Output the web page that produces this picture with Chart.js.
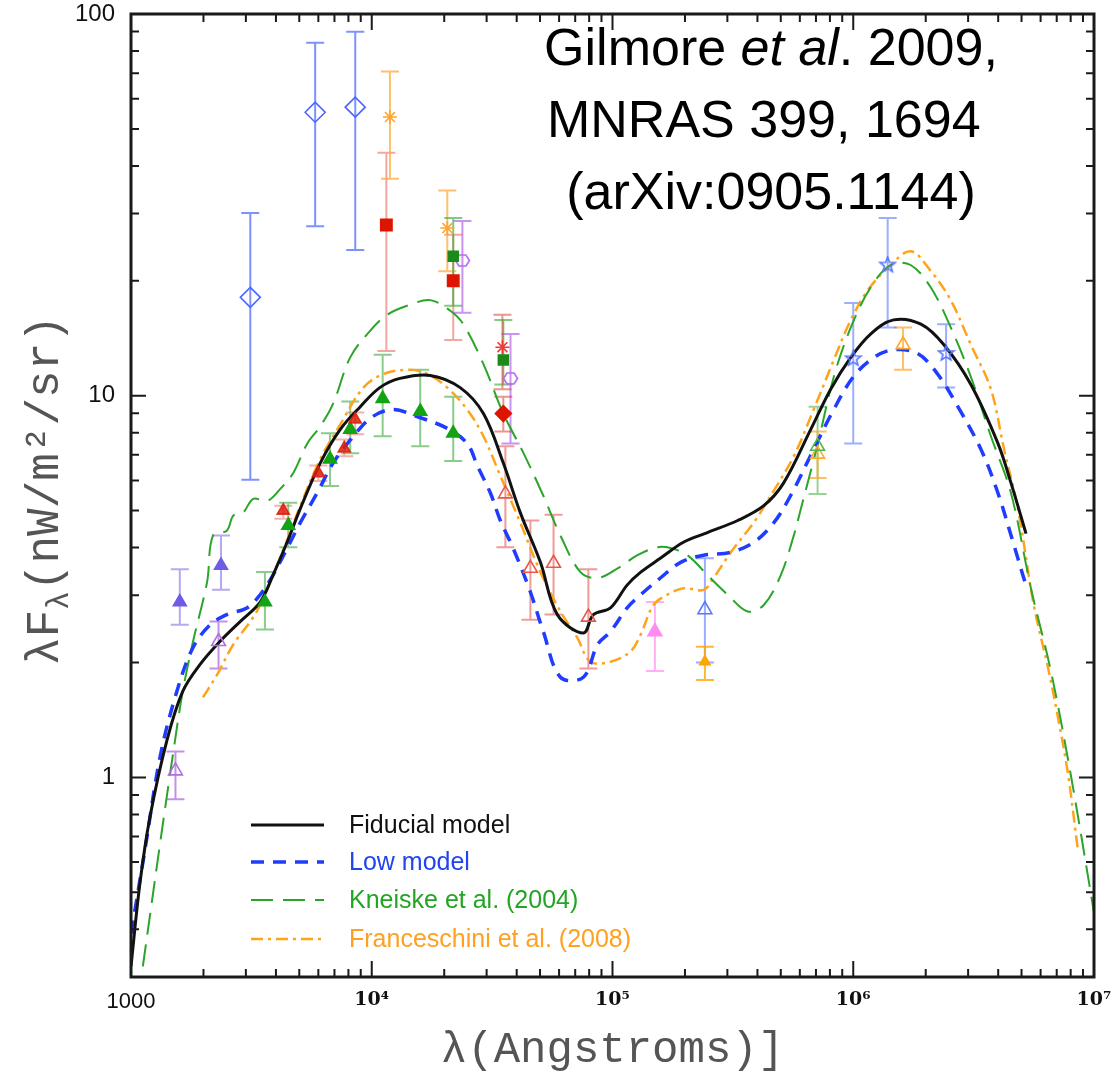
<!DOCTYPE html>
<html>
<head>
<meta charset="utf-8">
<title>EBL spectrum</title>
<script src="https://cdn.jsdelivr.net/npm/chart.js@4.4.1/dist/chart.umd.min.js"></script>
<style>
  html, body { margin: 0; padding: 0; background: #fff; }
  #wrap { width: 1111px; height: 1085px; }
</style>
</head>
<body>
<div id="wrap"><canvas id="sed" width="1111" height="1085"></canvas></div>
<script>
// wavelength in Angstrom, lambda*F_lambda in nW/m^2/sr
const fiducialModel = [[1000,0.32],[1090,0.53],[1200,0.79],[1410,1.25],[1640,1.68],[1940,1.98],[2340,2.27],[2840,2.56],[3440,2.88],[3890,3.39],[4450,4.13],[5050,5.06],[6110,6.66],[7400,8.16],[8960,9.36],[10800,10.5],[13100,11.1],[17500,11.3],[23300,10.5],[29100,8.98],[35200,6.66],[41400,4.94],[50200,3.66],[59000,2.67],[75700,2.39],[83300,2.67],[98100,2.78],[115000,3.19],[131000,3.45],[158000,3.75],[197000,4.13],[248000,4.38],[331000,4.71],[425000,5.15],[514000,5.91],[666000,8.16],[806000,10.4],[977000,12.6],[1.18e6,14.5],[1.47e6,15.8],[1.91e6,15.4],[2.38e6,13.6],[3.08e6,10.7],[3.99e6,7.5],[4.52e6,5.91],[5.22e6,4.35]];
const lowModel = [[1000,0.39],[1140,0.64],[1320,1.13],[1550,1.68],[1810,2.19],[2130,2.51],[2500,2.67],[3030,2.78],[3440,3.01],[3890,3.39],[4450,3.98],[5050,4.65],[5930,5.56],[6910,6.66],[8380,7.83],[10100,8.82],[12300,9.2],[15400,8.82],[20600,8.21],[24900,7.5],[27500,6.54],[31100,5.56],[34200,4.71],[38700,3.98],[45600,3.06],[51600,2.41],[60800,1.83],[75700,1.83],[86700,2.23],[98100,2.41],[115000,2.78],[131000,3.01],[158000,3.33],[192000,3.66],[239000,3.82],[310000,3.89],[386000,4.13],[468000,4.65],[549000,5.47],[685000,7.24],[830000,9.2],[1.0e6,11.2],[1.22e6,12.6],[1.47e6,13.2],[1.85e6,12.9],[2.24e6,11.4],[2.72e6,9.36],[3.39e6,7.24],[3.99e6,5.56],[4.65e6,4.06],[5.21e6,3.19]];
const kneiskeModel = [[1120,0.32],[1320,0.67],[1500,1.17],[1640,1.68],[1810,2.27],[2070,3.25],[2190,4.3],[2500,4.43],[2660,4.85],[2920,4.94],[3220,5.37],[3680,5.3],[4170,5.7],[4720,6.27],[5400,7.5],[6110,8.31],[6910,9.53],[8140,12.6],[9860,14.8],[11600,16.3],[14400,17.3],[17500,17.8],[21200,16.7],[24000,15.4],[29100,12.1],[35200,8.98],[42700,7.07],[51600,5.47],[60800,4.3],[73600,3.45],[86700,3.33],[105000,3.53],[127000,3.82],[154000,4.01],[174000,3.99],[205000,3.82],[248000,3.39],[301000,3.01],[364000,2.72],[425000,2.83],[500000,3.39],[566000,4.3],[606000,5.06],[713000,7.5],[830000,11.2],[977000,15.1],[1.18e6,19.2],[1.43e6,22.0],[1.73e6,22.0],[2.10e6,19.2],[2.54e6,15.1],[3.08e6,11.2],[3.73e6,7.83],[4.52e6,5.56],[5.47e6,3.13],[6.62e6,1.9],[8.02e6,1.01],[1e7,0.443]];
const franceschiniModel = [[1990,1.62],[2280,1.86],[2660,2.23],[3130,2.56],[3440,2.83],[3890,3.39],[4450,4.18],[5050,5.15],[6110,6.82],[7400,8.41],[9230,10.5],[11200,11.4],[14400,11.7],[17000,11.4],[20600,10.5],[24900,9.2],[29100,7.83],[34200,6.17],[41400,4.65],[50200,3.45],[60800,2.72],[71500,2.32],[80900,2.01],[98100,2.01],[119000,2.14],[131000,2.37],[148000,2.83],[169000,3.01],[197000,3.13],[239000,3.1],[263000,3.33],[310000,3.89],[386000,4.65],[454000,5.47],[566000,6.94],[685000,9.2],[830000,12.4],[977000,15.8],[1.15e6,18.9],[1.39e6,21.6],[1.73e6,23.9],[2.10e6,21.2],[2.54e6,17.8],[3.08e6,13.6],[3.73e6,10.4],[4.23e6,7.24],[4.83e6,5.06],[5.62e6,2.83],[6.44e6,1.94],[7.08e6,1.44],[7.80e6,1.02],[8.57e6,0.646]];

// measurements: [wavelength, value, lower, upper]
const uvFilledTri = [[1595,2.88,2.51,3.51],[2365,3.59,3.10,4.30]];
const uvOpenTri = [[1530,1.04,0.877,1.17],[2310,2.27,1.93,2.56]];
const optGreenTri = [[3600,2.88,2.44,3.45],[4500,4.57,4.01,5.24],[6710,6.82,5.80,7.97],[8140,8.16,7.07,9.65],[11100,9.82,7.83,12.8],[15900,9.09,7.37,11.7],[21800,7.97,6.74,9.94]];
const optRedTri = [[4290,5.0,4.76,5.15],[6000,6.27,5.98,6.56],[7690,7.28,6.94,7.68],[8540,8.66,7.92,9.03]];
const nirRedSquare = [[11500,28.0,13.1,43.3],[21800,20.0,14.0,26.4]];
const nirGreenSquare = [[21800,23.2,17.2,29.2],[35200,12.4,10.7,15.8]];
const nirOrangeStar = [[11900,53.7,37.0,70.7],[20600,27.5,21.2,34.5]];
const optBlueDiamond = [[3130,18.1,6.02,30.1],[5820,55.3,27.8,84.1],[8540,57.0,24.1,89.8]];
const nirPurpleHex = [[23800,22.6,16.5,28.7],[37700,11.1,7.50,14.5]];
const nirRedAsterisk = [[34900,13.4,10.4,16.3]];
const nirRedDiamond = [[35200,8.98,8.06,9.94]];
const iracOpenTri = [[35900,5.53,4.01,7.37],[45600,3.53,2.59,4.71],[56900,3.64,2.67,4.88],[79400,2.63,1.93,3.51]];
const midPinkTri = [[150000,2.41,1.90,2.88]];
const midBlueOpenTri = [[242000,2.75,2.00,3.75]];
const midOrangeTri = [[242000,2.01,1.80,2.20]];
const firGreenOpenTri = [[711000,7.37,5.53,9.36]];
const firOrangeOpenTri = [[711000,7.03,6.09,8.06],[1610000,13.6,11.7,15.1]];
const firBlueStar = [[1.0e6,12.5,7.50,17.5],[1.39e6,22.0,15.1,29.2],[2.43e6,12.9,10.5,15.4]];

const xTickValues = [1e3, 1e4, 1e5, 1e6, 1e7];
const xTickLabels = ['1000', '10\u2074', '10\u2075', '10\u2076', '10\u2077'];
const yTickValues = [1, 10, 100];
const yTickLabels = ['1', '10', '100'];

function outlineMarker(shape, color, size) {
    const c = document.createElement('canvas');
    c.width = size;
    c.height = size;
    const g = c.getContext('2d');
    const cx = size / 2, cy = size / 2, r = size / 2 - 1.5;
    g.beginPath();
    if (shape === 'star') {
        for (let i = 0; i < 10; i++) {
            const rr = i % 2 ? r * 0.42 : r;
            const a = -Math.PI / 2 + i * Math.PI / 5;
            g.lineTo(cx + rr * Math.cos(a), cy + rr * Math.sin(a));
        }
    } else {
        for (let i = 0; i < 6; i++) {
            const a = i * Math.PI / 3;
            g.lineTo(cx + r * Math.cos(a), cy + r * 0.9 * Math.sin(a));
        }
    }
    g.closePath();
    g.strokeStyle = color;
    g.lineWidth = 1.6;
    g.stroke();
    return c;
}

function pointSet(rows, opts) {
    return Object.assign({
        data: rows.map(r => ({ x: r[0], y: r[1] })),
        errors: rows.map(r => [r[2], r[3]]),
        pointBorderWidth: 1.6,
        order: 1
    }, opts);
}

function curve(rows, label, color, width, dash) {
    return {
        label: label,
        data: rows.map(r => ({ x: r[0], y: r[1] })),
        showLine: true,
        borderColor: color,
        borderWidth: width,
        borderDash: dash,
        pointRadius: 0,
        tension: 0.35,
        fill: false,
        order: 2,
        isModel: true
    };
}

const NONE = 'rgba(0,0,0,0)';

const datasets = [
    curve(fiducialModel, 'Fiducial model', '#111111', 3, []),
    curve(lowModel, 'Low model', '#1f3cff', 3.5, [13, 9]),
    curve(kneiskeModel, 'Kneiske et al. (2004)', '#2aa52a', 2, [22, 10]),
    curve(franceschiniModel, 'Franceschini et al. (2008)', '#ffa31a', 2.5, [12, 5, 3, 5]),

    pointSet(optBlueDiamond, { pointStyle: 'rectRot', pointRadius: 10, backgroundColor: NONE, borderColor: '#4a66ff', errorColor: 'rgba(80,110,255,0.75)' }),
    pointSet(nirRedSquare, { pointStyle: 'rect', pointRadius: 8, backgroundColor: '#dd1500', borderColor: '#dd1500', errorColor: 'rgba(230,80,70,0.5)' }),
    pointSet(nirOrangeStar, { pointStyle: 'star', pointRadius: 7, backgroundColor: NONE, borderColor: '#ffa530', errorColor: 'rgba(255,170,60,0.75)' }),
    pointSet(nirGreenSquare, { pointStyle: 'rect', pointRadius: 7, backgroundColor: '#1b8a1b', borderColor: '#1b8a1b', errorColor: 'rgba(40,170,40,0.6)' }),
    pointSet(nirPurpleHex, { pointStyle: outlineMarker('hex', '#b568ec', 17), backgroundColor: NONE, borderColor: '#b568ec', errorColor: 'rgba(180,100,235,0.7)' }),
    pointSet(nirRedAsterisk, { pointStyle: 'star', pointRadius: 7, backgroundColor: NONE, borderColor: '#ee3a3a', errorColor: 'rgba(220,60,50,0.55)' }),
    pointSet(nirRedDiamond, { pointStyle: 'rectRot', pointRadius: 8, backgroundColor: '#dd1500', borderColor: '#dd1500', errorColor: 'rgba(220,60,50,0.55)' }),
    pointSet(optRedTri, { pointStyle: 'triangle', pointRadius: 7, backgroundColor: 'rgba(220,30,10,0.85)', borderColor: 'rgba(220,30,10,0.85)', errorColor: 'rgba(230,80,70,0.45)' }),
    pointSet(optGreenTri, { pointStyle: 'triangle', pointRadius: 7.5, backgroundColor: '#13a313', borderColor: '#13a313', errorColor: 'rgba(60,170,60,0.6)' }),
    pointSet(uvFilledTri, { pointStyle: 'triangle', pointRadius: 7.5, backgroundColor: '#6f5ce6', borderColor: '#6f5ce6', errorColor: 'rgba(120,100,230,0.55)' }),
    pointSet(uvOpenTri, { pointStyle: 'triangle', pointRadius: 8, backgroundColor: NONE, borderColor: '#b070e0', errorColor: 'rgba(170,100,220,0.7)' }),
    pointSet(iracOpenTri, { pointStyle: 'triangle', pointRadius: 8, backgroundColor: NONE, borderColor: '#e8584a', errorColor: 'rgba(230,90,80,0.6)' }),
    pointSet(midPinkTri, { pointStyle: 'triangle', pointRadius: 8, backgroundColor: '#ff8cf0', borderColor: '#ff8cf0', errorColor: 'rgba(255,150,240,0.75)' }),
    pointSet(midBlueOpenTri, { pointStyle: 'triangle', pointRadius: 8, backgroundColor: NONE, borderColor: '#5577ff', errorColor: 'rgba(90,120,255,0.6)' }),
    pointSet(midOrangeTri, { pointStyle: 'triangle', pointRadius: 6, backgroundColor: '#ffa500', borderColor: '#ffa500', errorColor: 'rgba(255,165,0,0.8)' }),
    pointSet(firGreenOpenTri, { pointStyle: 'triangle', pointRadius: 8, backgroundColor: NONE, borderColor: '#50b850', errorColor: 'rgba(80,180,80,0.6)' }),
    pointSet(firOrangeOpenTri, { pointStyle: 'triangle', pointRadius: 8, backgroundColor: NONE, borderColor: '#ffa830', errorColor: 'rgba(255,170,50,0.75)' }),
    pointSet(firBlueStar, { pointStyle: outlineMarker('star', '#5575ff', 19), backgroundColor: NONE, borderColor: '#5575ff', errorColor: 'rgba(90,120,255,0.6)' })
];

// vertical error bars with caps, drawn under the markers
const errorBars = {
    id: 'errorBars',
    beforeDatasetsDraw(chart) {
        const { ctx, chartArea: a, scales: { x, y } } = chart;
        ctx.save();
        ctx.beginPath();
        ctx.rect(a.left, a.top, a.right - a.left, a.bottom - a.top);
        ctx.clip();
        ctx.lineWidth = 2;
        chart.data.datasets.forEach(ds => {
            if (!ds.errors) return;
            ctx.strokeStyle = ds.errorColor;
            ds.errors.forEach((e, i) => {
                const px = x.getPixelForValue(ds.data[i].x);
                const lo = y.getPixelForValue(e[0]);
                const hi = y.getPixelForValue(e[1]);
                ctx.beginPath();
                ctx.moveTo(px, hi); ctx.lineTo(px, lo);
                ctx.moveTo(px - 9, hi); ctx.lineTo(px + 9, hi);
                ctx.moveTo(px - 9, lo); ctx.lineTo(px + 9, lo);
                ctx.stroke();
            });
        });
        ctx.restore();
    }
};

// box frame with inward log ticks on all four sides
const frameTicks = {
    id: 'frameTicks',
    afterDraw(chart) {
        const { ctx, chartArea: a, scales: { x, y } } = chart;
        ctx.save();
        ctx.strokeStyle = '#1a1a1a';
        ctx.lineWidth = 2;
        ctx.beginPath();
        for (let d = 1e3; d < 1e7; d *= 10) {
            for (let k = 1; k <= 9; k++) {
                const px = x.getPixelForValue(d * k);
                const len = k === 1 ? 16 : 8;
                ctx.moveTo(px, a.bottom); ctx.lineTo(px, a.bottom - len);
                ctx.moveTo(px, a.top); ctx.lineTo(px, a.top + len);
            }
        }
        for (let d = 0.1; d < 100; d *= 10) {
            for (let k = 1; k <= 9; k++) {
                const v = d * k;
                if (v < y.min || v > y.max) continue;
                const py = y.getPixelForValue(v);
                const len = k === 1 ? 15 : 8;
                ctx.moveTo(a.left, py); ctx.lineTo(a.left + len, py);
                ctx.moveTo(a.right, py); ctx.lineTo(a.right - len, py);
            }
        }
        ctx.stroke();
        ctx.lineWidth = 3;
        ctx.strokeRect(a.left, a.top, a.right - a.left, a.bottom - a.top);
        ctx.restore();
    }
};

// y title with subscript, legend and citation text
const labels = {
    id: 'labels',
    afterDraw(chart) {
        const { ctx, chartArea: a } = chart;
        ctx.save();

        // y axis title
        const big = '46px "Liberation Mono"';
        const small = '31px "Liberation Mono"';
        const parts = [['\u03bbF', big, 0], ['\u03bb', small, 10], ['(nW/m\u00b2/sr)', big, 0]];
        let total = 0;
        parts.forEach(p => { ctx.font = p[1]; total += ctx.measureText(p[0]).width; });
        ctx.translate(58, 490);
        ctx.rotate(-Math.PI / 2);
        ctx.fillStyle = '#555';
        ctx.textBaseline = 'alphabetic';
        let cx = -total / 2;
        parts.forEach(p => {
            ctx.font = p[1];
            ctx.fillText(p[0], cx, p[2]);
            cx += ctx.measureText(p[0]).width;
        });
        ctx.setTransform(1, 0, 0, 1, 0, 0);

        // legend for the model curves
        const rows = [825, 862, 900, 939];
        const textColors = ['#111111', '#2244ee', '#22a522', '#ffa020'];
        chart.data.datasets.filter(d => d.isModel).forEach((ds, i) => {
            ctx.strokeStyle = ds.borderColor;
            ctx.lineWidth = ds.borderWidth;
            ctx.setLineDash(ds.borderDash);
            ctx.beginPath();
            ctx.moveTo(251, rows[i]);
            ctx.lineTo(324, rows[i]);
            ctx.stroke();
            ctx.setLineDash([]);
            ctx.font = '25px "Liberation Sans"';
            ctx.fillStyle = textColors[i];
            ctx.textBaseline = 'middle';
            ctx.fillText(ds.label, 349, rows[i] + 1);
        });

        // citation
        ctx.fillStyle = '#000';
        ctx.textBaseline = 'alphabetic';
        const reg = '52px "Liberation Sans"';
        const ita = 'italic 52px "Liberation Sans"';
        const line1 = [['Gilmore ', reg], ['et al', ita], ['. 2009,', reg]];
        let w = 0;
        line1.forEach(p => { ctx.font = p[1]; w += ctx.measureText(p[0]).width; });
        let lx = 771 - w / 2;
        line1.forEach(p => { ctx.font = p[1]; ctx.fillText(p[0], lx, 65); lx += ctx.measureText(p[0]).width; });
        ctx.font = reg;
        ctx.textAlign = 'center';
        ctx.fillText('MNRAS 399, 1694 ', 771, 137);
        ctx.fillText('(arXiv:0905.1144)', 771, 209);
        ctx.restore();
    }
};

new Chart(document.getElementById('sed'), {
    type: 'scatter',
    data: { datasets: datasets },
    options: {
        responsive: false,
        animation: false,
        events: [],
        layout: { autoPadding: false, padding: { left: 0, top: 14, right: 17, bottom: 0 } },
        plugins: { legend: { display: false }, tooltip: { enabled: false } },
        scales: {
            x: {
                type: 'logarithmic',
                min: 1000,
                max: 1e7,
                afterBuildTicks: s => { s.ticks = xTickValues.map(v => ({ value: v })); },
                afterFit: s => {
                    s.height = 108;
                    s.paddingLeft = 0;
                    s.paddingRight = 0;
                },
                grid: { display: false, drawTicks: false },
                border: { display: false },
                ticks: {
                    autoSkip: false,
                    maxRotation: 0,
                    padding: 12,
                    color: '#111',
                    callback: (v, i) => xTickLabels[i],
                    font: c => c.index === 0
                        ? { family: 'Liberation Sans', size: 22 }
                        : { family: 'DejaVu Serif', size: 19, weight: 'bold' }
                },
                title: {
                    display: true,
                    text: '\u03bb(Angstroms)]',
                    color: '#555',
                    font: { family: 'Liberation Mono', size: 44 },
                    padding: { top: 0, bottom: 8 }
                }
            },
            y: {
                type: 'logarithmic',
                min: 0.316,
                max: 100,
                afterBuildTicks: s => { s.ticks = yTickValues.map(v => ({ value: v })); },
                afterFit: s => {
                    s.width = 131;
                    s.paddingTop = 0;
                    s.paddingBottom = 0;
                },
                grid: { display: false, drawTicks: false },
                border: { display: false },
                ticks: {
                    padding: 16,
                    color: '#111',
                    callback: (v, i) => yTickLabels[i],
                    font: { family: 'Liberation Sans', size: 24 }
                }
            }
        }
    },
    plugins: [errorBars, frameTicks, labels]
});
</script>
</body>
</html>
